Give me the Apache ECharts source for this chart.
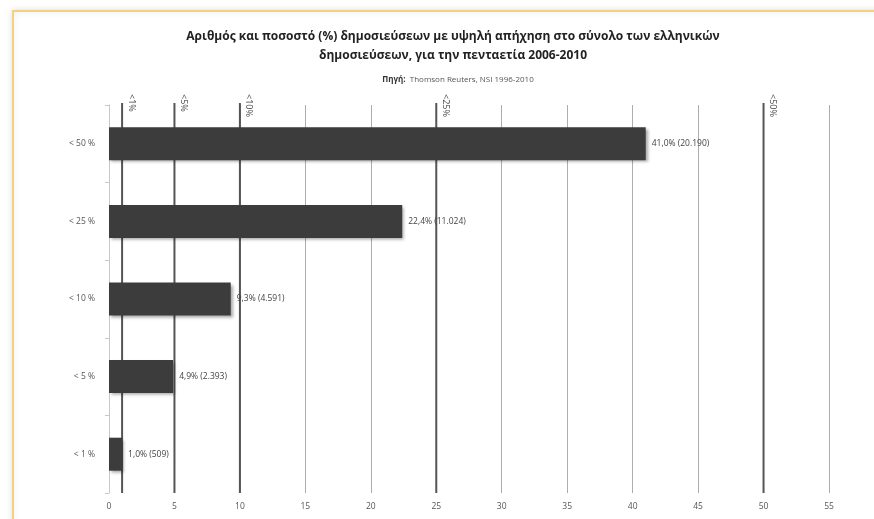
<!DOCTYPE html>
<html><head><meta charset="utf-8">
<script src="https://cdn.jsdelivr.net/npm/echarts@6/dist/echarts.min.js"></script>
<style>html,body{margin:0;padding:0;background:#fff}#c{width:874px;height:519px}</style>
</head><body><div id="c"></div>
<script>
const categories = ['< 50 %', '< 25 %', '< 10 %', '< 5 %', '< 1 %'];
const percents = [41.0, 22.4, 9.3, 4.9, 1.0];
const counts = [20190, 11024, 4591, 2393, 509];
const thresholdValues = [1, 5, 10, 25, 50];
const thresholdLabels = ['<1%', '<5%', '<10%', '<25%', '<50%'];
const xTicks = [0, 5, 10, 15, 20, 25, 30, 35, 40, 45, 50, 55];

function fmtPct(v){ return v.toFixed(1).replace('.', ',') + '%'; }
function fmtCount(n){ return String(n).replace(/\B(?=(\d{3})+(?!\d))/g, '.'); }

const chart = echarts.init(document.getElementById('c'), null, {renderer:'canvas'});
const FONT = '"Open Sans", "Noto Sans", sans-serif';
chart.setOption({
  backgroundColor: '#fff',
  animation: false,
  title: [{
    text: 'Αριθμός και ποσοστό (%) δημοσιεύσεων με υψηλή απήχηση στο σύνολο των ελληνικών\nδημοσιεύσεων, για την πενταετία 2006-2010',
    left: 448, top: 22, textAlign: 'center',
    textStyle: {fontFamily: FONT, fontSize: 12, fontWeight: 'bold', color: '#222', lineHeight: 19}
  }, {
    text: '{b|Πηγή:}  Thomson Reuters, NSI 1996-2010',
    left: 453, top: 71, textAlign: 'center',
    textStyle: {fontFamily: FONT, fontSize: 8, fontWeight: 'normal', color: '#555',
      rich: {b: {fontFamily: FONT, fontSize: 8, fontWeight: 'bold', color: '#333'}}}
  }],
  graphic: [{
    type: 'rect', silent: true, z: -10,
    shape: {x: 13, y: 11, width: 900, height: 600},
    style: {fill: '#fff', stroke: '#f5d07e', lineWidth: 2, shadowBlur: 6, shadowColor: 'rgba(0,0,0,0.12)'}
  }],
  grid: {left: 109, right: 45, top: 105, bottom: 26, containLabel: false},
  xAxis: {
    type: 'value', min: 0, max: 55, interval: 5,
    axisLine: {show: false}, axisTick: {show: false},
    axisLabel: {margin: 9, fontFamily: FONT, fontSize: 8.5, color: '#555',
      formatter: v => xTicks.includes(v) ? String(v) : ''},
    splitLine: {show: true, lineStyle: {color: '#adadad', width: 1}}
  },
  yAxis: {
    type: 'category', data: categories, inverse: true,
    axisLine: {show: true, lineStyle: {color: '#c8c8c8', width: 1}},
    axisTick: {show: true, length: 4, lineStyle: {color: '#c8c8c8'}},
    axisLabel: {margin: 14, fontFamily: FONT, fontSize: 8.5, color: '#555'}
  },
  series: [{
    type: 'bar', data: percents, barWidth: 33, z: 3,
    itemStyle: {color: '#3c3c3c',
      shadowColor: 'rgba(0,0,0,0.35)', shadowBlur: 3, shadowOffsetX: 2, shadowOffsetY: 2},
    label: {show: true, position: 'right', distance: 6, fontFamily: FONT, fontSize: 8.5, color: '#444',
      formatter: p => fmtPct(percents[p.dataIndex]) + ' (' + fmtCount(counts[p.dataIndex]) + ')'}
  }, {
    type: 'custom', z: 2, clip: false,
    data: thresholdValues.map(v => [v, 0]),
    encode: {x: 0, y: 1},
    renderItem: function(params, api){
      const v = api.value(0);
      const x = api.coord([v, 0])[0];
      const cs = params.coordSys;
      const lbl = thresholdLabels[params.dataIndex];
      return {type: 'group', children: [
        {type: 'line', shape: {x1: x, y1: cs.y - 2, x2: x, y2: cs.y + cs.height},
          style: {stroke: '#555', lineWidth: 2}},
        {type: 'text', x: x + 9, y: cs.y - 11, rotation: -Math.PI / 2,
          style: {text: lbl, fontFamily: FONT, fontSize: 9, fill: '#444', align: 'left', verticalAlign: 'middle'}}
      ]};
    }
  }]
});
</script></body></html>
